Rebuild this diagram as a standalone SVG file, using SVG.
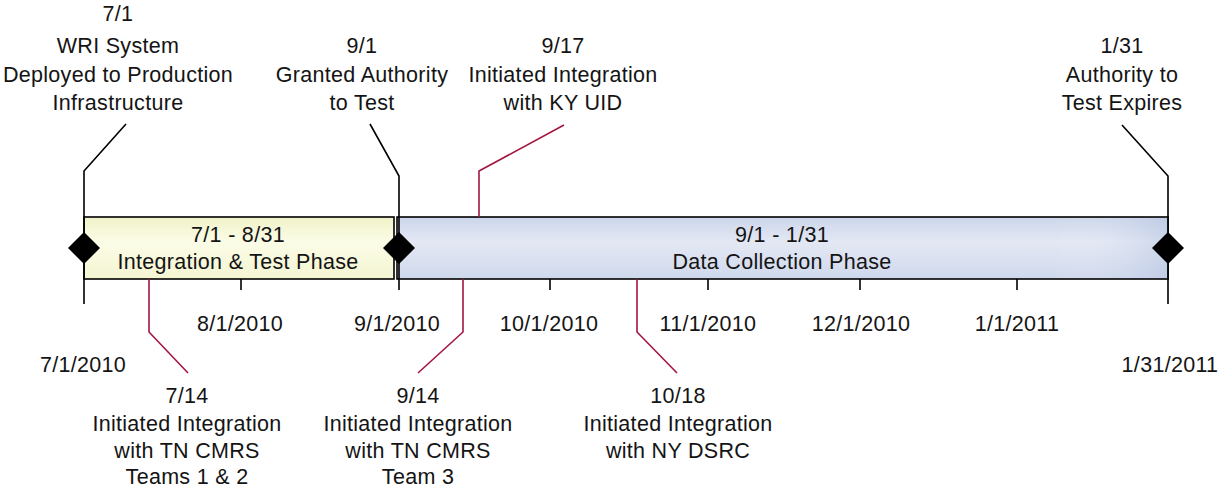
<svg xmlns="http://www.w3.org/2000/svg" width="1226" height="492" viewBox="0 0 1226 492">
<defs>
<linearGradient id="gy" x1="0" y1="0" x2="0" y2="1">
<stop offset="0" stop-color="#f0f2c8"/>
<stop offset="0.4" stop-color="#fbfce6"/>
<stop offset="1" stop-color="#f3f5d2"/>
</linearGradient>
<linearGradient id="gb" x1="0" y1="0" x2="0" y2="1">
<stop offset="0" stop-color="#cbd5ea"/>
<stop offset="0.4" stop-color="#e4e8f4"/>
<stop offset="1" stop-color="#cfd8ec"/>
</linearGradient>
<linearGradient id="gbh" x1="0" y1="0" x2="1" y2="0">
<stop offset="0" stop-color="#ffffff" stop-opacity="0"/>
<stop offset="0.85" stop-color="#ffffff" stop-opacity="0"/>
<stop offset="1" stop-color="#a9bbdc" stop-opacity="0.4"/>
</linearGradient>
</defs>
<style>
text{font-family:"Liberation Sans",Arial,sans-serif;font-size:21.5px;letter-spacing:0.3px;fill:#141414;text-anchor:middle}
.bl{stroke:#000;stroke-width:1.6;fill:none}
.rd{stroke:#a3163f;stroke-width:1.6;fill:none}
.dm{fill:#000}
</style>
<rect width="1226" height="492" fill="#fff"/>

<g id="phase-integration">
<rect x="84" y="217" width="310" height="62" fill="url(#gy)" stroke="#000" stroke-width="1.6"/>
<text x="238" y="242">7/1 - 8/31</text>
<text x="238" y="269">Integration &amp; Test Phase</text>
</g>
<g id="phase-data">
<rect x="397" y="217" width="771" height="62" fill="url(#gb)" stroke="#000" stroke-width="1.6"/>
<rect x="397" y="218" width="771" height="60" fill="url(#gbh)"/>
<text x="782" y="242">9/1 - 1/31</text>
<text x="782" y="269">Data Collection Phase</text>
</g>

<g id="connectors">
<polyline class="bl" points="126,124 84,171 84,304"/>
<polyline class="bl" points="370,124 399,176 399,290"/>
<polyline class="bl" points="1122,125 1168,176 1168,304"/>
<polyline class="rd" points="564,125 479,171 479,217"/>
<polyline class="rd" points="149,279 149,332 188,373"/>
<polyline class="rd" points="463,279 463,332 418,373"/>
<polyline class="rd" points="637,279 637,332 677,373"/>
<line class="bl" x1="241" y1="279" x2="241" y2="290"/>
<line class="bl" x1="550" y1="279" x2="550" y2="290"/>
<line class="bl" x1="708" y1="279" x2="708" y2="290"/>
<line class="bl" x1="860" y1="279" x2="860" y2="290"/>
<line class="bl" x1="1017" y1="279" x2="1017" y2="290"/>
</g>

<g id="milestone-start"><polygon class="dm" points="84,232 100,248 84,264 68,248"/></g>
<g id="milestone-ato"><polygon class="dm" points="399,232 415,248 399,264 383,248"/></g>
<g id="milestone-end"><polygon class="dm" points="1168,232 1184,248 1168,264 1152,248"/></g>

<g id="label-7-1">
<text x="118" y="21">7/1</text>
<text x="118" y="53">WRI System</text>
<text x="118" y="82">Deployed to Production</text>
<text x="118" y="110">Infrastructure</text>
</g>
<g id="label-9-1">
<text x="362" y="53">9/1</text>
<text x="362" y="82">Granted Authority</text>
<text x="362" y="110">to Test</text>
</g>
<g id="label-9-17">
<text x="563" y="53">9/17</text>
<text x="563" y="82">Initiated Integration</text>
<text x="563" y="110">with KY UID</text>
</g>
<g id="label-1-31">
<text x="1122" y="53">1/31</text>
<text x="1122" y="82">Authority to</text>
<text x="1122" y="110">Test Expires</text>
</g>
<g id="label-7-14">
<text x="187" y="403">7/14</text>
<text x="187" y="430.5">Initiated Integration</text>
<text x="187" y="458">with TN CMRS</text>
<text x="187" y="484">Teams 1 &amp; 2</text>
</g>
<g id="label-9-14">
<text x="418" y="403">9/14</text>
<text x="418" y="430.5">Initiated Integration</text>
<text x="418" y="458">with TN CMRS</text>
<text x="418" y="484">Team 3</text>
</g>
<g id="label-10-18">
<text x="678" y="403">10/18</text>
<text x="678" y="430.5">Initiated Integration</text>
<text x="678" y="458">with NY DSRC</text>
</g>

<g id="axis-dates">
<text x="83" y="372">7/1/2010</text>
<text x="240" y="331">8/1/2010</text>
<text x="397" y="331">9/1/2010</text>
<text x="549" y="331">10/1/2010</text>
<text x="708" y="331">11/1/2010</text>
<text x="861" y="331">12/1/2010</text>
<text x="1017" y="331">1/1/2011</text>
<text x="1170" y="372">1/31/2011</text>
</g>
</svg>
